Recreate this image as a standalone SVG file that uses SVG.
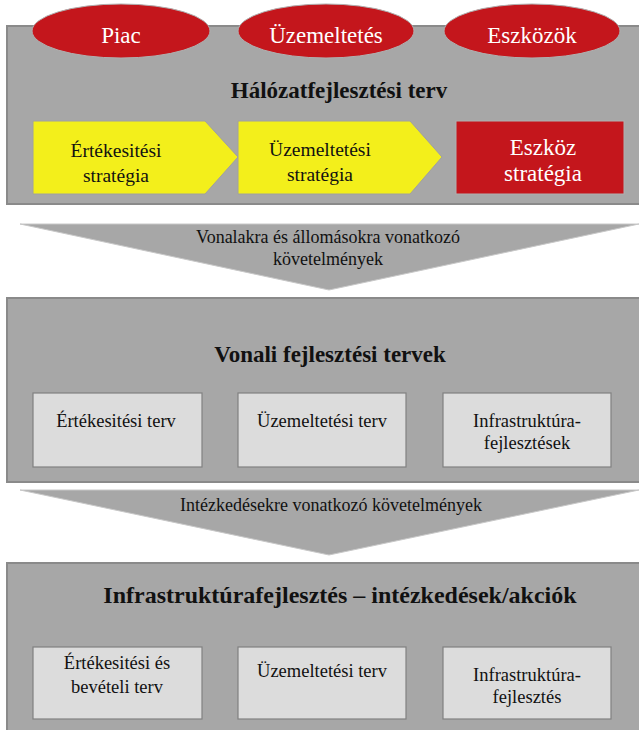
<svg xmlns="http://www.w3.org/2000/svg" width="639" height="730" viewBox="0 0 639 730">
<style>
text{fill:#111;text-anchor:middle}
.panel{fill:#a7a7a7;stroke:#8a8a8a;stroke-width:2}
.box{fill:#dcdcdc;stroke:#808080;stroke-width:1.2}
.red{fill:#c4161c;stroke:#b0b0b0;stroke-width:1}
.yel{fill:#f3ef1b;stroke:#a0a0a0;stroke-width:1}
.chev{fill:#a7a7a7;stroke:#c8c8c8;stroke-width:1}
.tb{font-size:18.5px}
.tc{font-size:18px}
.ty{font-size:19.5px}
.w{fill:#fff;font-size:23px}
.h{font-weight:bold;font-size:23px}
</style>
<rect width="639" height="730" fill="#fff"/>
<g font-family="'Liberation Serif', 'DejaVu Serif', serif">
<g id="panel1">
<rect class="panel" x="7" y="26" width="640" height="178"/>
</g>
<g id="piac"><ellipse class="red" cx="121" cy="31" rx="89" ry="27"/><text class="w" x="121" y="43">Piac</text></g>
<g id="uzem"><ellipse class="red" cx="326" cy="31" rx="88" ry="27"/><text class="w" x="326" y="43">Üzemeltetés</text></g>
<g id="eszk"><ellipse class="red" cx="532" cy="31" rx="88" ry="27"/><text class="w" x="532" y="43">Eszközök</text></g>
<g id="title1"><text class="h" x="339" y="98">Hálózatfejlesztési terv</text></g>
<g id="ert-strat"><path class="yel" d="M33,121 H205 L238,157 L205,194 H33 Z"/><text class="ty" x="116" y="157">Értékesitési</text><text class="ty" x="116" y="182">stratégia</text></g>
<g id="uzem-strat"><path class="yel" d="M238,121 H410 L442,157 L410,194 H238 Z"/><text class="ty" x="320" y="156">Üzemeltetési</text><text class="ty" x="320" y="181">stratégia</text></g>
<g id="eszk-strat"><rect class="red" x="456" y="121" width="168" height="73"/><text class="w" x="543" y="155">Eszköz</text><text class="w" x="543" y="181">stratégia</text></g>
<g id="connectors">
<path class="chev" d="M20,224 H639 L329,290 Z"/>
<path class="chev" d="M20,490 H639 L329,555 Z"/>
</g>
<g id="req1"><text class="tc" x="328" y="243">Vonalakra és állomásokra vonatkozó</text><text class="tc" x="328" y="265">követelmények</text></g>
<g id="panel2"><rect class="panel" x="7" y="298" width="640" height="184"/></g>
<g id="title2"><text class="h" x="330" y="362">Vonali fejlesztési tervek</text></g>
<g id="b21"><rect class="box" x="33" y="393" width="169" height="74"/><text class="tb" x="116" y="427">Értékesitési terv</text></g>
<g id="b22"><rect class="box" x="238" y="393" width="168" height="74"/><text class="tb" x="322" y="427">Üzemeltetési terv</text></g>
<g id="b23"><rect class="box" x="443" y="393" width="168" height="74"/><text class="tb" x="527" y="427">Infrastruktúra-</text><text class="tb" x="527" y="449">fejlesztések</text></g>
<g id="req2"><text class="tc" x="331" y="511">Intézkedésekre vonatkozó követelmények</text></g>
<g id="panel3"><rect class="panel" x="7" y="563" width="640" height="180"/></g>
<g id="title3"><text class="h" x="340" y="603" style="font-size:24px">Infrastruktúrafejlesztés – intézkedések/akciók</text></g>
<g id="b31"><rect class="box" x="33" y="647" width="169" height="72"/><text class="tb" x="117" y="669">Értékesitési és</text><text class="tb" x="117" y="693">bevételi terv</text></g>
<g id="b32"><rect class="box" x="238" y="647" width="168" height="72"/><text class="tb" x="322" y="677">Üzemeltetési terv</text></g>
<g id="b33"><rect class="box" x="443" y="647" width="168" height="72"/><text class="tb" x="527" y="681">Infrastruktúra-</text><text class="tb" x="527" y="703">fejlesztés</text></g>
</g>
</svg>
